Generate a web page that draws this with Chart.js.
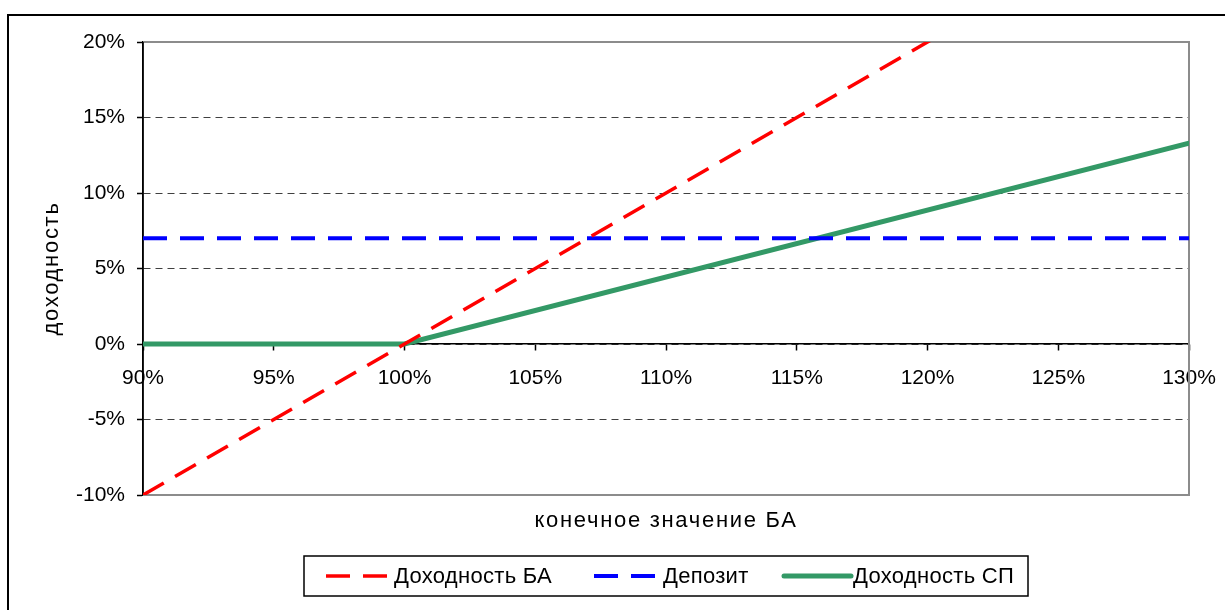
<!DOCTYPE html>
<html>
<head>
<meta charset="utf-8">
<script src="https://cdn.jsdelivr.net/npm/chart.js@4/dist/chart.umd.min.js"></script>
<style>
  html, body { margin: 0; padding: 0; background: #fff; }
  #wrap { width: 1225px; height: 610px; position: relative; }
</style>
</head>
<body>
<div id="wrap"><canvas id="c" width="1225" height="610"></canvas></div>
<script>
// Final underlying level, % of initial
const xTickValues = [90, 95, 100, 105, 110, 115, 120, 125, 130];
const yTickValues = [-10, -5, 0, 5, 10, 15, 20];

// Underlying asset return (БА)
const baX = [90, 130];
const baY = [-10, 30];

// Deposit rate
const depX = [90, 130];
const depY = [7, 7];

// Structured product return (СП): capital protection, partial participation above 100%
const spX = [90, 100, 130];
const spY = [0, 0, 13.3];

const seriesNames = ['Доходность БА', 'Депозит', 'Доходность СП'];
const xTitle = 'конечное значение БА';
const yTitle = 'доходность';

const FONT = '"Liberation Sans", Arial, sans-serif';

function pts(xs, ys) { return xs.map((x, i) => ({ x: x, y: ys[i] })); }

// Outer frame, plot-area border, axis titles and boxed legend
const decor = {
  id: 'decor',
  beforeDraw(chart) {
    const ctx = chart.ctx;
    ctx.save();
    ctx.fillStyle = '#fff';
    ctx.fillRect(0, 0, chart.width, chart.height);
    ctx.strokeStyle = '#000';
    ctx.lineWidth = 2;
    ctx.beginPath();
    ctx.moveTo(8, chart.height);
    ctx.lineTo(8, 15);
    ctx.lineTo(chart.width, 15);
    ctx.stroke();
    ctx.restore();
  },
  beforeDatasetsDraw(chart) {
    const a = chart.chartArea, ctx = chart.ctx;
    ctx.save();
    ctx.strokeStyle = '#8c8c8c';
    ctx.lineWidth = 2;
    ctx.beginPath();
    ctx.moveTo(a.left, a.top);
    ctx.lineTo(a.right, a.top);
    ctx.lineTo(a.right, a.bottom);
    ctx.lineTo(a.left, a.bottom);
    ctx.stroke();
    ctx.strokeStyle = '#000';
    ctx.lineWidth = 1.5;
    ctx.beginPath();
    ctx.moveTo(a.left, a.top);
    ctx.lineTo(a.left, a.bottom);
    ctx.stroke();
    ctx.restore();
  },
  afterDraw(chart) {
    const a = chart.chartArea, ctx = chart.ctx;
    ctx.save();
    ctx.fillStyle = '#000';
    ctx.font = '22px ' + FONT;
    ctx.letterSpacing = '1.7px';
    ctx.textAlign = 'center';
    ctx.textBaseline = 'middle';
    ctx.fillText(xTitle, (a.left + a.right) / 2, 521);

    ctx.save();
    ctx.translate(52, (a.top + a.bottom) / 2);
    ctx.rotate(-Math.PI / 2);
    ctx.fillText(yTitle, 0, 0);
    ctx.restore();

    // legend box
    const box = { x: 304, y: 556, w: 724, h: 40 };
    ctx.letterSpacing = '0px';
    ctx.strokeStyle = '#000';
    ctx.lineWidth = 1.5;
    ctx.strokeRect(box.x, box.y, box.w, box.h);
    const cy = box.y + box.h / 2;
    const items = [
      { x0: 326, x1: 389, tx: 394 },
      { x0: 594, x1: 657, tx: 663 },
      { x0: 784, x1: 851, tx: 853 }
    ];
    chart.data.datasets.forEach((ds, i) => {
      const it = items[i];
      ctx.save();
      ctx.strokeStyle = ds.borderColor;
      ctx.lineWidth = ds.borderWidth;
      ctx.lineCap = ds.borderCapStyle || 'butt';
      ctx.setLineDash(ds.borderDash || []);
      ctx.beginPath();
      ctx.moveTo(it.x0, cy);
      ctx.lineTo(it.x1, cy);
      ctx.stroke();
      ctx.restore();
      ctx.fillStyle = '#000';
      ctx.font = '22px ' + FONT;
      ctx.letterSpacing = '0.3px';
      ctx.textAlign = 'left';
      ctx.textBaseline = 'middle';
      ctx.fillText(ds.label, it.tx, cy + 1);
    });
    ctx.restore();
  }
};

new Chart(document.getElementById('c'), {
  type: 'line',
  data: {
    datasets: [
      {
        label: seriesNames[0],
        data: pts(baX, baY),
        borderColor: '#ff0000',
        borderWidth: 3.5,
        borderDash: [24, 13],
        pointRadius: 0,
        tension: 0
      },
      {
        label: seriesNames[1],
        data: pts(depX, depY),
        borderColor: '#0000ff',
        borderWidth: 4,
        borderDash: [24, 13],
        pointRadius: 0,
        tension: 0
      },
      {
        label: seriesNames[2],
        data: pts(spX, spY),
        borderColor: '#339966',
        borderWidth: 5,
        borderCapStyle: 'round',
        pointRadius: 0,
        tension: 0
      }
    ]
  },
  options: {
    responsive: false,
    animation: false,
    devicePixelRatio: 1,
    layout: { padding: { top: 42, right: 36, bottom: 115, left: 0 } },
    plugins: {
      legend: { display: false },
      tooltip: { enabled: false }
    },
    scales: {
      x: {
        type: 'linear',
        position: { y: 0 },
        min: 90,
        max: 130,
        afterBuildTicks: s => { s.ticks = xTickValues.map(v => ({ value: v })); },
        afterFit: s => { s.paddingLeft = 0; s.paddingRight = 0; },
        ticks: {
          color: '#000',
          font: { family: FONT, size: 21 },
          padding: 16,
          maxRotation: 0,
          callback: v => v + '%'
        },
        grid: {
          display: true,
          drawOnChartArea: false,
          drawTicks: true,
          tickLength: 6,
          tickColor: '#000',
          tickWidth: 1.5
        },
        border: { display: true, color: '#000', width: 1.5 }
      },
      y: {
        type: 'linear',
        position: 'left',
        min: -10,
        max: 20,
        afterBuildTicks: s => { s.ticks = yTickValues.map(v => ({ value: v })); },
        afterFit: s => { s.width = 143; },
        ticks: {
          color: '#000',
          font: { family: FONT, size: 21 },
          padding: 12,
          callback: v => v + '%'
        },
        grid: {
          color: '#404040',
          lineWidth: 1,
          drawTicks: true,
          tickLength: 6,
          tickColor: '#000',
          tickWidth: 1.5,
          tickBorderDash: []
        },
        border: { display: true, color: '#000', width: 1.5, dash: [7, 5] }
      }
    }
  },
  plugins: [decor]
});
</script>
</body>
</html>
